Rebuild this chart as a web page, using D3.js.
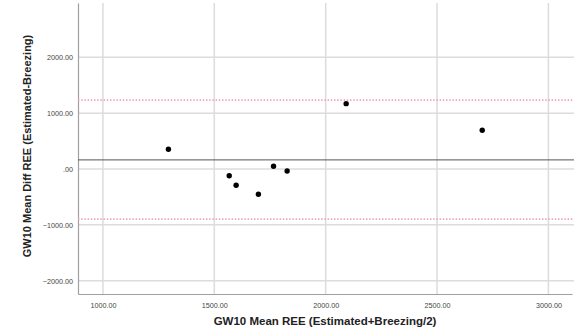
<!DOCTYPE html>
<html><head><meta charset="utf-8">
<script src="https://cdn.jsdelivr.net/npm/d3@7"></script>
<style>body{margin:0;background:#fff}svg{display:block}</style>
</head><body><svg id="c" width="574" height="333"></svg>
<script>
const meanREE = [1294, 1567, 1598, 1698, 1766, 1827, 2092, 2703];
const diffREE = [353, -120, -292, -453, 48, -36, 1170, 694];
const meanDiff = 163;
const upperLoA = 1233;
const lowerLoA = -898;
const xTicks = [1000, 1500, 2000, 2500, 3000];
const yTicks = [-2000, -1000, 0, 1000, 2000];
const xTitle = "GW10 Mean REE (Estimated+Breezing/2)";
const yTitle = "GW10 Mean Diff REE (Estimated-Breezing)";

const svg = d3.select("#c");
const x = d3.scaleLinear().domain([888, 3106]).range([78, 572]);
const y = d3.scaleLinear().domain([-2238, 2972]).range([294, 3]);
const fmt = v => v === 0 ? ".00" : d3.format(".2f")(v);

// gridlines
svg.append("g").selectAll("line").data(xTicks).join("line")
  .attr("x1", d => x(d)).attr("x2", d => x(d)).attr("y1", 3).attr("y2", 294)
  .attr("stroke", "#dcdcdc").attr("stroke-width", 1.5);
svg.append("g").selectAll("line").data(yTicks).join("line")
  .attr("x1", 78).attr("x2", 574).attr("y1", d => y(d)).attr("y2", d => y(d))
  .attr("stroke", "#dcdcdc").attr("stroke-width", 1.5);

// axes
const xa = svg.append("g").attr("transform", "translate(0,294)")
  .call(d3.axisBottom(x).tickValues(xTicks).tickFormat(fmt).tickSize(0).tickPadding(9));
const ya = svg.append("g").attr("transform", "translate(78,0)")
  .call(d3.axisLeft(y).tickValues(yTicks).tickFormat(fmt).tickSize(0).tickPadding(5));
[xa, ya].forEach(a => {
  a.select(".domain").attr("stroke", "#a0a0a0").attr("stroke-width", 1.2);
  a.selectAll("text").attr("font-family", "Liberation Sans, Arial, sans-serif")
    .attr("font-size", 7.2).attr("fill", "#444");
});

// reference lines
svg.append("line").attr("x1", 78).attr("x2", 574).attr("y1", y(meanDiff)).attr("y2", y(meanDiff))
  .attr("stroke", "#555").attr("stroke-width", 1);
[upperLoA, lowerLoA].forEach(v => {
  svg.append("line").attr("x1", 78).attr("x2", 574).attr("y1", y(v)).attr("y2", y(v))
    .attr("stroke", "#f2a0b8").attr("stroke-width", 1.6).attr("stroke-dasharray", "1.4,1.8");
});

// points
svg.append("g").selectAll("circle").data(meanREE).join("circle")
  .attr("cx", d => x(d)).attr("cy", (d, i) => y(diffREE[i])).attr("r", 2.7).attr("fill", "#000");

// titles
svg.append("text").attr("x", 325).attr("y", 325).attr("text-anchor", "middle")
  .attr("font-family", "Liberation Sans, Arial, sans-serif").attr("font-weight", "bold")
  .attr("font-size", 11.5).attr("fill", "#222").text(xTitle);
svg.append("text").attr("transform", "translate(31,146) rotate(-90)").attr("text-anchor", "middle")
  .attr("font-family", "Liberation Sans, Arial, sans-serif").attr("font-weight", "bold")
  .attr("font-size", 11).attr("fill", "#222").text(yTitle);
</script></body></html>
